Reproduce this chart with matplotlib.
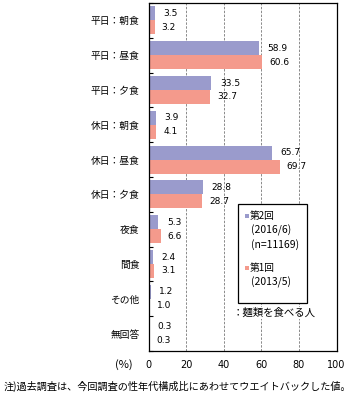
import matplotlib
matplotlib.use("Agg")
import matplotlib.pyplot as plt
from matplotlib.patches import Rectangle
import numpy as np

plt.rcParams['font.family'] = ['Noto Sans CJK JP', 'DejaVu Sans']

categories = ["平日：朝食", "平日：昼食", "平日：夕食", "休日：朝食", "休日：昼食",
              "休日：夕食", "夜食", "間食", "その他", "無回答"]
second = [3.5, 58.9, 33.5, 3.9, 65.7, 28.8, 5.3, 2.4, 1.2, 0.3]
first = [3.2, 60.6, 32.7, 4.1, 69.7, 28.7, 6.6, 3.1, 1.0, 0.3]
xticks = [0, 20, 40, 60, 80, 100]

blue = '#9a9bcc'
red = '#f49a8c'

W, H = 354, 399
fig = plt.figure(figsize=(W / 100, H / 100), dpi=100)

def fx(x):
    return x / W

def fy(y):
    return 1 - y / H

left, right, top, bottom = 148.5, 336.5, 3, 351
ax = fig.add_axes([fx(left), fy(bottom), fx(right - left), (bottom - top) / H])

n = len(categories)
y = np.arange(n)
h = 0.4
ax.barh(y - h / 2, second, height=h, color=blue, zorder=2)
ax.barh(y + h / 2, first, height=h, color=red, zorder=2)

for i in range(n):
    ax.annotate(f"{second[i]:.1f}", (second[i], y[i] - h / 2), xytext=(6, 0),
                textcoords='offset points', va='center', ha='left', fontsize=6.5,
                family=['DejaVu Sans'])
    ax.annotate(f"{first[i]:.1f}", (first[i], y[i] + h / 2), xytext=(5, 0),
                textcoords='offset points', va='center', ha='left', fontsize=6.5,
                family=['DejaVu Sans'])

ax.set_xlim(0, 100)
ax.set_ylim(n - 0.5, -0.5)
ax.set_xticks(xticks)
ax.set_xticklabels([str(t) for t in xticks], fontsize=7, family=['DejaVu Sans'])
ax.tick_params(axis='x', length=0, pad=6.5)
ax.set_yticks(y)
ax.set_yticklabels(categories, fontsize=7)
ax.tick_params(axis='y', length=0, pad=6.5)
ax.set_yticks(np.arange(n + 1) - 0.5, minor=True)
ax.tick_params(axis='y', which='minor', direction='in', length=3, width=0.8)
for s in ax.spines.values():
    s.set_linewidth(0.9)
    s.set_color('black')

for g in xticks[1:-1]:
    ax.axvline(g, color='#8a8a8a', lw=0.7, ls=(0, (2.5, 1.5)), zorder=1)

fig.text(fx(124), fy(365), "(%)", fontsize=8, ha='center', va='center')

# legend box
lx0, lx1, ly0, ly1 = 238, 307, 204, 303
fig.patches.append(Rectangle((fx(lx0), fy(ly1)), fx(lx1 - lx0), (ly1 - ly0) / H,
                             transform=fig.transFigure, facecolor='white',
                             edgecolor='black', lw=0.9, zorder=5))
sq = 4
for (cy, col) in [(216, blue), (268, red)]:
    fig.patches.append(Rectangle((fx(245), fy(cy + sq / 2)), fx(sq), sq / H,
                                 transform=fig.transFigure, facecolor=col,
                                 edgecolor='none', zorder=6))
fig.text(fx(250), fy(216), "第2回", fontsize=7, va='center', ha='left', zorder=7)
fig.text(fx(251), fy(230), "(2016/6)", fontsize=7.5, va='center', ha='left', zorder=7)
fig.text(fx(251), fy(245), "(n=11169)", fontsize=7.5, va='center', ha='left', zorder=7)
fig.text(fx(250), fy(268), "第1回", fontsize=7, va='center', ha='left', zorder=7)
fig.text(fx(251), fy(282), "(2013/5)", fontsize=7.5, va='center', ha='left', zorder=7)

fig.text(fx(233), fy(313), "：麺類を食べる人", fontsize=7.5, va='center', ha='left', zorder=7,
         bbox=dict(facecolor='white', edgecolor='none', pad=0.5))

fig.text(fx(4), fy(386), "注)過去調査は、今回調査の性年代構成比にあわせてウエイトバックした値。",
         fontsize=7.3, va='center', ha='left')

fig.savefig("out.png", dpi=100)
